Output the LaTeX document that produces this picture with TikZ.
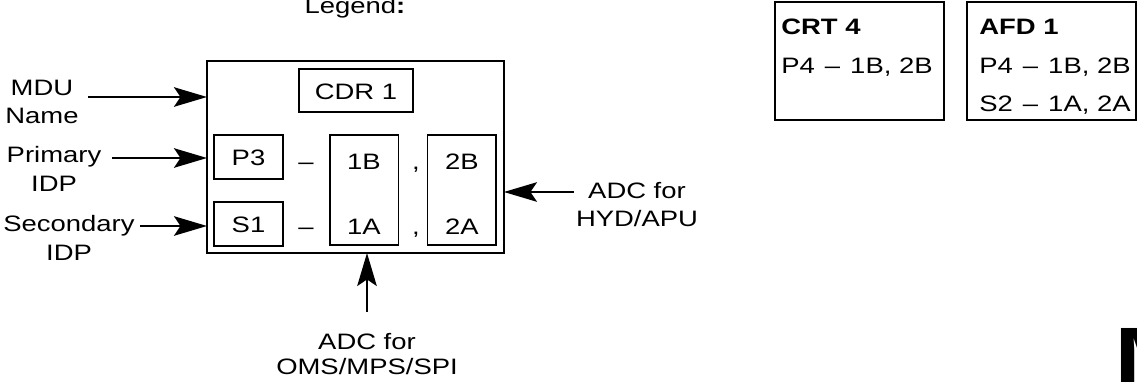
\documentclass[tikz,border=0pt]{standalone}
\usepackage{fontspec}
\setmainfont[FakeStretch=1.23]{Liberation Sans}
\usetikzlibrary{arrows.meta,positioning}
\newcommand{\padash}{\hspace{0.45em}–\hspace{0.45em}}
\tikzset{
  frame/.style={
    draw,
    line width=1.1pt,
    inner sep=0pt,
    outer sep=0pt,
    anchor=north west,
  },
  cell/.style={
    frame,
    minimum width=1.38cm,
    minimum height=0.88cm,
    text height=1em,
    text depth=0pt,
  },
  column/.style={
    frame,
    minimum width=1.37cm,
    minimum height=2.2cm,
  },
  panel/.style={
    frame,
    minimum width=3.38cm,
    minimum height=2.36cm,
  },
  callout/.style={
    align=center,
    inner sep=0pt,
  },
  panel text/.style={
    align=left,
    inner sep=0pt,
    anchor=north west,
  },
  feed/.style={
    -{Stealth[length=6.6mm,width=3.9mm,inset=1.3mm]},
    line width=1.25pt,
  },
}

\begin{document}
\begin{tikzpicture}[x=0.02cm, y=-0.02cm, font=\fontsize{12.7pt}{16.4pt}\selectfont]
  \useasboundingbox (0,0) rectangle (1137,382);

  % legend display
  \node[anchor=base] (legend) at (355,13) {Legend\textbf{:}};
  \node[frame, minimum width=5.94cm, minimum height=3.84cm] (display) at (207,61) {};
  \node[cell, minimum width=2.28cm, minimum height=0.86cm] (cdr) at (299,69) {CDR 1};
  \node[cell] (p3) at (214,135) {P3};
  \node[cell, below=0.46cm of p3] (s1) {S1};
  \node[column] (adcone) at (330,135) {};
  \node[column, right=0.58cm of adcone] (adctwo) {};

  \node[anchor=base] (pdash) at (306,169) {–};
  \node[anchor=base] (sdash) at (306,234) {–};
  \node[anchor=base] (oneb) at (364,169) {1B};
  \node[anchor=base] (onea) at (364,234) {1A};
  \node[anchor=base] (pcomma) at (416,169) {,};
  \node[anchor=base] (scomma) at (416,234) {,};
  \node[anchor=base] (twob) at (462,169) {2B};
  \node[anchor=base] (twoa) at (462,234) {2A};

  % callouts
  \node[callout] (namelbl) at (42,102) {MDU\\Name};
  \node[callout] (prilbl) at (54,169) {Primary\\IDP};
  \node[callout] (seclbl) at (69,238) {Secondary\\IDP};
  \node[callout] (hydlbl) at (637,205) {ADC for\\[-0.5pt]HYD/APU};
  \node[callout] (omslbl) at (367,354) {ADC for\\[-1.7pt]OMS/MPS/SPI};

  \coordinate (nametail) at (88,97);
  \coordinate (pritail) at (112,158);
  \coordinate (sectail) at (140,226);
  \coordinate (hydtail) at (574,192);
  \coordinate (omstail) at (367,312);

  \draw[feed] (nametail) -- (nametail -| display.west);
  \draw[feed] (pritail) -- (pritail -| display.west);
  \draw[feed] (sectail) -- (sectail -| display.west);
  \draw[feed] (hydtail) -- (hydtail -| display.east);
  \draw[feed] (omstail) -- (omstail |- display.south);

  % example panels
  \node[panel] (crt) at (775,2) {};
  \node[panel, right=0.46cm of crt] (afd) {};
  \node[panel text] (crttxt) at (781,19) {\textbf{CRT 4}\\[5.4pt]P4\padash 1B, 2B};
  \node[panel text] (afdtxt) at (979,19) {\textbf{AFD 1}\\[5.4pt]P4\padash 1B, 2B\\[5.4pt]S2\padash 1A, 2A};

  \node[anchor=north west, inner sep=0pt, font=\fontsize{48pt}{48pt}\selectfont\bfseries] (bigm) at (1114,328) {M};
\end{tikzpicture}
\end{document}
